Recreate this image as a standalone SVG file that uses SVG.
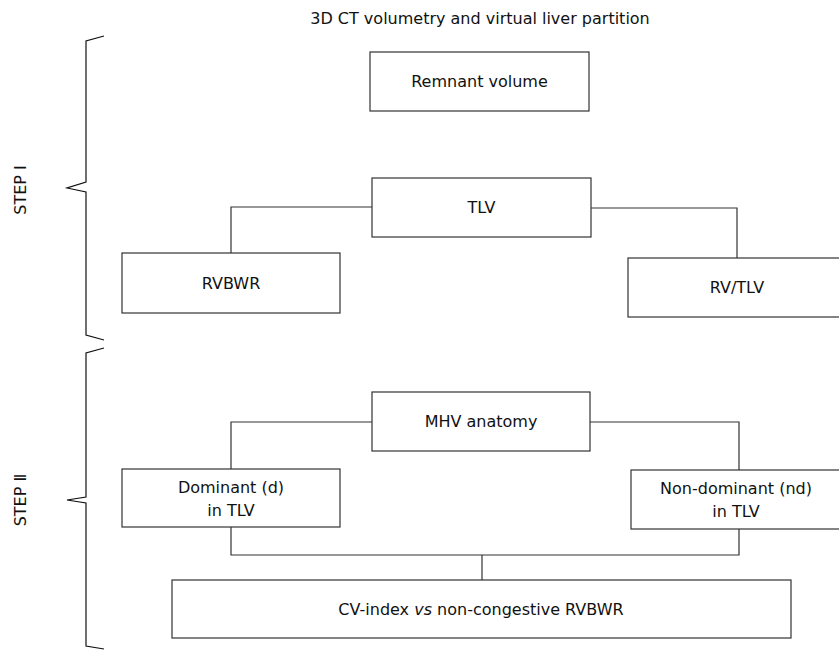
<svg xmlns="http://www.w3.org/2000/svg" width="839" height="650" viewBox="0 0 839 650">
<style>
.box{fill:#fff;stroke:#333;stroke-width:1.2}
.t{font-family:"DejaVu Sans","Noto Sans CJK SC",sans-serif;font-size:16px;fill:#111;text-anchor:middle}
.c{fill:none;stroke:#333;stroke-width:1.2}
.b{fill:none;stroke:#111;stroke-width:1.2}
</style>
<rect width="839" height="650" fill="#fff"/>
<text class="t" x="480" y="24">3D CT volumetry and virtual liver partition</text>
<g id="braces">
<polyline class="b" points="104,36 86,41 86,182 67,188 86,192 86,335 104,340"/>
<polyline class="b" points="104,348 86,353 86,497 67,500 86,503 86,646 104,649"/>
</g>
<text class="t" transform="translate(26,190) rotate(-90)">STEP Ⅰ</text>
<text class="t" transform="translate(26,500) rotate(-90)">STEP Ⅱ</text>
<g id="connectors">
<polyline class="c" points="372,207 231,207 231,253"/>
<polyline class="c" points="591,208 737,208 737,258"/>
<polyline class="c" points="372,422 231,422 231,469"/>
<polyline class="c" points="590,422 739,422 739,470"/>
<polyline class="c" points="231,527 231,555 739,555 739,529"/>
<line class="c" x1="482" y1="555" x2="482" y2="580"/>
</g>
<g id="remnant"><rect class="box" x="370" y="52" width="219" height="59"/><text class="t" x="479.5" y="87">Remnant volume</text></g>
<g id="tlv"><rect class="box" x="372" y="178" width="219" height="59"/><text class="t" x="481.5" y="213">TLV</text></g>
<g id="rvbwr"><rect class="box" x="122" y="253" width="218" height="60"/><text class="t" x="231" y="289">RVBWR</text></g>
<g id="rvtlv"><rect class="box" x="628" y="258" width="214" height="59"/><text class="t" x="737" y="293">RV/TLV</text></g>
<g id="mhv"><rect class="box" x="372" y="392" width="218" height="59"/><text class="t" x="481" y="427">MHV anatomy</text></g>
<g id="dominant"><rect class="box" x="122" y="469" width="218" height="58"/><text class="t" x="231" y="493">Dominant (d)</text><text class="t" x="231" y="516">in TLV</text></g>
<g id="nondominant"><rect class="box" x="631" y="470" width="211" height="59"/><text class="t" x="736" y="494">Non-dominant (nd)</text><text class="t" x="736" y="517">in TLV</text></g>
<g id="cv"><rect class="box" x="172" y="580" width="619" height="58"/><text class="t" x="481" y="615">CV-index <tspan font-style="italic">vs</tspan> non-congestive RVBWR</text></g>
</svg>
